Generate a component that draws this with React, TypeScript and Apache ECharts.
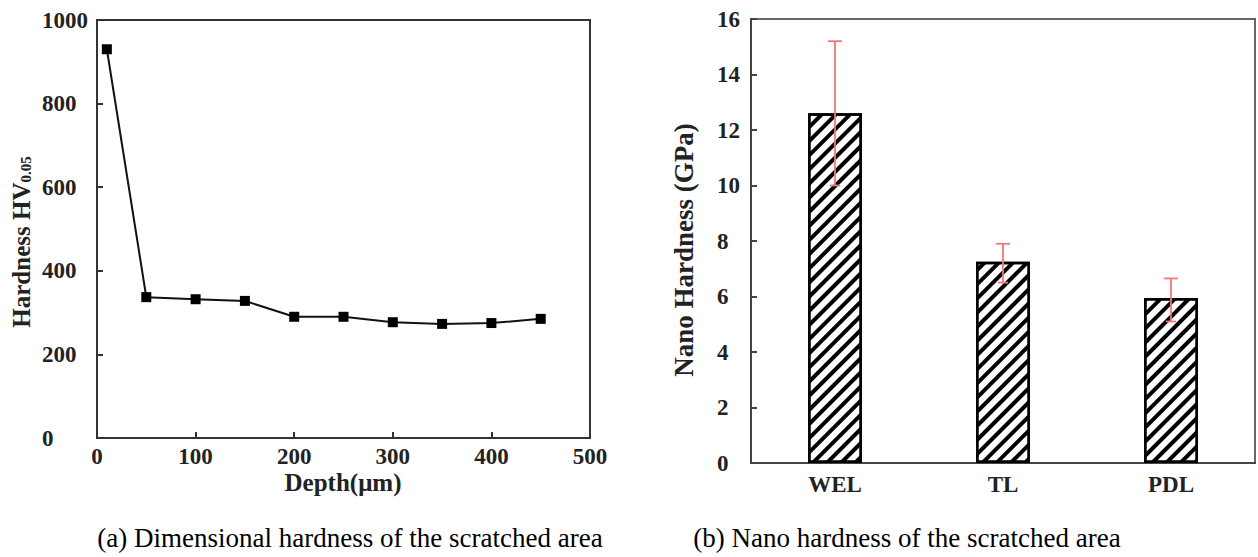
import React, { useEffect, useRef } from "react";
import * as echarts from "echarts";

const depth = [10, 50, 100, 150, 200, 250, 300, 350, 400, 450];
const hardnessHV = [930, 337, 332, 328, 290, 290, 277, 273, 275, 285];

const layers = ["WEL", "TL", "PDL"];
const nanoHardness = [12.6, 7.25, 5.95];
const errLow = [10.0, 6.5, 5.1];
const errHigh = [15.2, 7.9, 6.65];

const captionA = "(a) Dimensional hardness of the scratched area";
const captionB = "(b) Nano hardness of the scratched area";

const FONT = "'Liberation Serif', 'Times New Roman', serif";

export default function App() {
  const ref = useRef<HTMLDivElement>(null);
  useEffect(() => {
    if (!ref.current) return;
    const chart = echarts.init(ref.current, null, { renderer: "svg" });
    const tickLabel = { fontFamily: FONT, fontWeight: "bold", fontSize: 23, color: "#222" };
    const option: any = {
      animation: false,
      backgroundColor: "#fff",
      grid: [
        { left: 97, top: 20, width: 493, height: 418, show: true, borderColor: "#333", borderWidth: 2 },
        { left: 751, top: 19, width: 504, height: 444, show: true, borderColor: "#666", borderWidth: 2 },
      ],
      xAxis: [
        {
          type: "value", gridIndex: 0, min: 0, max: 500, interval: 100,
          axisLine: { lineStyle: { color: "#333", width: 2 } },
          axisTick: { inside: true, length: 6, lineStyle: { color: "#333", width: 2 } },
          splitLine: { show: false },
          axisLabel: { ...tickLabel, margin: 7, formatter: (v: number) => String(v) },
        },
        {
          type: "category", gridIndex: 1, data: layers,
          axisLine: { lineStyle: { color: "#444", width: 2 } },
          axisTick: { show: false },
          axisLabel: { ...tickLabel, margin: 10 },
        },
      ],
      yAxis: [
        {
          type: "value", gridIndex: 0, min: 0, max: 1000, interval: 200,
          axisLine: { show: true, lineStyle: { color: "#333", width: 2 } },
          axisTick: { show: true, inside: true, length: 6, lineStyle: { color: "#333", width: 2 } },
          splitLine: { show: false },
          axisLabel: { ...tickLabel, margin: 55, align: "left", formatter: (v: number) => String(v) },
        },
        {
          type: "value", gridIndex: 1, min: 0, max: 16, interval: 2,
          axisLine: { show: true, lineStyle: { color: "#444", width: 2 } },
          axisTick: { show: true, inside: true, length: 6, lineStyle: { color: "#444", width: 2 } },
          splitLine: { show: false },
          axisLabel: { ...tickLabel, margin: 34, align: "left" },
        },
      ],
      series: [
        {
          type: "line", xAxisIndex: 0, yAxisIndex: 0,
          data: depth.map((d, i) => [d, hardnessHV[i]]),
          symbol: "rect", symbolSize: 10,
          lineStyle: { color: "#111", width: 2 },
          itemStyle: { color: "#000" },
        },
        {
          type: "bar", xAxisIndex: 1, yAxisIndex: 1,
          data: nanoHardness, barWidth: 54,
          itemStyle: {
            color: "#fff", borderColor: "#000", borderWidth: 2.5,
            decal: {
              symbol: "rect", symbolSize: 1,
              dashArrayX: [[1, 0]], dashArrayY: [3.5, 5.5],
              rotation: -Math.PI / 4, color: "#000",
            },
          },
        },
        {
          type: "custom", xAxisIndex: 1, yAxisIndex: 1,
          data: layers.map((_, i) => [i, errLow[i], errHigh[i]]),
          z: 10,
          renderItem: (params: any, api: any) => {
            const x = api.value(0);
            const lo = api.coord([x, api.value(1)]);
            const hi = api.coord([x, api.value(2)]);
            const cap = 7;
            const style = { stroke: "#f27878", lineWidth: 1.8 };
            return {
              type: "group",
              children: [
                { type: "line", shape: { x1: hi[0], y1: hi[1], x2: lo[0], y2: lo[1] }, style },
                { type: "line", shape: { x1: hi[0] - cap, y1: hi[1], x2: hi[0] + cap, y2: hi[1] }, style },
                { type: "line", shape: { x1: lo[0] - 5, y1: lo[1], x2: lo[0] + 5, y2: lo[1] }, style },
              ],
            };
          },
        },
      ],
      graphic: [
        {
          type: "text", x: 21, y: 242, rotation: Math.PI / 2,
          style: {
            text: "{a|Hardness HV}{b|0.05}",
            align: "center", verticalAlign: "middle",
            rich: {
              a: { fontFamily: FONT, fontWeight: "bold", fontSize: 25, fill: "#222" },
              b: { fontFamily: FONT, fontWeight: "bold", fontSize: 15, fill: "#222", verticalAlign: "bottom", padding: [10, 0, 0, 0] },
            },
          },
        },
        {
          type: "text", x: 343, y: 482,
          style: { text: "Depth(μm)", fontFamily: FONT, fontWeight: "bold", fontSize: 25, fill: "#222", align: "center", verticalAlign: "middle" },
        },
        {
          type: "text", x: 684, y: 250, rotation: Math.PI / 2,
          style: { text: "Nano Hardness (GPa)", fontFamily: FONT, fontWeight: "bold", fontSize: 27, fill: "#222", align: "center", verticalAlign: "middle" },
        },
        {
          type: "text", x: 350, y: 538,
          style: { text: captionA, fontFamily: FONT, fontSize: 27, fill: "#000", align: "center", verticalAlign: "middle" },
        },
        {
          type: "text", x: 907, y: 538,
          style: { text: captionB, fontFamily: FONT, fontSize: 27, fill: "#000", align: "center", verticalAlign: "middle" },
        },
      ],
    };
    chart.setOption(option);
    return () => chart.dispose();
  }, []);
  return <div ref={ref} style={{ position: "fixed", left: 0, top: 0, width: 1258, height: 557 }} />;
}
